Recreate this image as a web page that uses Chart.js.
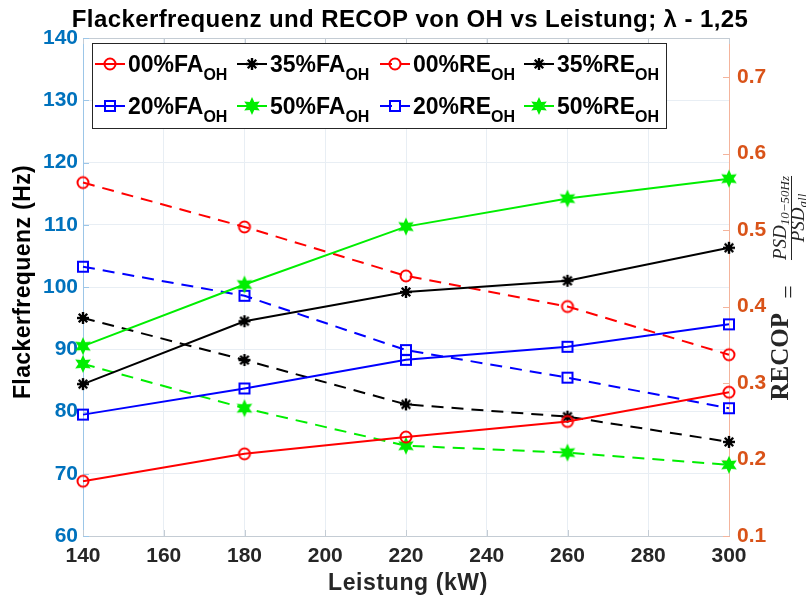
<!DOCTYPE html>
<html>
<head>
<meta charset="utf-8">
<script src="https://cdn.jsdelivr.net/npm/chart.js@4.4.0/dist/chart.umd.min.js"></script>
<style>
  html, body { margin: 0; padding: 0; background: #fff; }
  #wrap { width: 806px; height: 603px; }
</style>
</head>
<body>
<div id="wrap"><canvas id="c" width="806" height="603"></canvas></div>
<script>
// data
const leistung = [140, 180, 220, 260, 300];
// Flackerfrequenz (Hz), left axis
const fa00 = [68.8, 73.2, 75.9, 78.4, 83.1];
const fa20 = [79.5, 83.7, 88.3, 90.4, 94.0];
const fa35 = [84.4, 94.5, 99.2, 101.0, 106.3];
const fa50 = [90.5, 100.4, 109.7, 114.2, 117.4];
// RECOP, right axis
const re00 = [0.562, 0.504, 0.440, 0.400, 0.337];
const re20 = [0.452, 0.414, 0.343, 0.307, 0.267];
const re35 = [0.385, 0.330, 0.272, 0.256, 0.223];
const re50 = [0.325, 0.267, 0.218, 0.209, 0.193];

const seriesNames = ['00%FA', '20%FA', '35%FA', '50%FA', '00%RE', '20%RE', '35%RE', '50%RE'];
const seriesValues = [fa00, fa20, fa35, fa50, re00, re20, re35, re50];

const xTicks = [140, 160, 180, 200, 220, 240, 260, 280, 300];
const leftTicks = [60, 70, 80, 90, 100, 110, 120, 130, 140];
const rightTicks = [0.1, 0.2, 0.3, 0.4, 0.5, 0.6, 0.7];

const titleText = 'Flackerfrequenz und RECOP von OH vs Leistung; \u03bb - 1,25';
const xTitle = 'Leistung (kW)';
const yTitle = 'Flackerfrequenz (Hz)';

// styles per series (same order as seriesNames)
const colors = ['#ff0000', '#0000ff', '#000000', '#00ee00', '#ff0000', '#0000ff', '#000000', '#00ee00'];
const markers = ['circle', 'square', 'asterisk', 'hexagram', 'circle', 'square', 'asterisk', 'hexagram'];

const SANS = '"Liberation Sans", Arial, Helvetica, sans-serif';
const SERIF = '"Liberation Serif", "DejaVu Serif", serif';

function makeMarker(kind, color){
  const s = 22, c = s / 2;
  const cv = document.createElement('canvas');
  cv.width = s; cv.height = s;
  const g = cv.getContext('2d');
  g.strokeStyle = color; g.fillStyle = color; g.lineWidth = 2;
  if(kind === 'circle'){
    g.beginPath(); g.arc(c, c, 5.5, 0, Math.PI*2); g.stroke();
  } else if(kind === 'square'){
    g.strokeRect(c-5, c-5, 10, 10);
  } else if(kind === 'asterisk'){
    g.lineWidth = 2.4;
    for(let k=0;k<4;k++){
      const a = k*Math.PI/4;
      g.beginPath();
      g.moveTo(c-6*Math.cos(a), c-6*Math.sin(a));
      g.lineTo(c+6*Math.cos(a), c+6*Math.sin(a));
      g.stroke();
    }
    g.beginPath(); g.arc(c, c, 3.2, 0, Math.PI*2); g.fill();
  } else if(kind === 'hexagram'){
    g.beginPath();
    for(let k=0;k<12;k++){
      const r = k%2 ? 4.6 : 9;
      const a = -Math.PI/2 + k*Math.PI/6;
      const px = c + r*Math.cos(a), py = c + r*Math.sin(a);
      if(k===0) g.moveTo(px, py); else g.lineTo(px, py);
    }
    g.closePath(); g.fill();
  }
  return cv;
}

const markerImgs = seriesNames.map((_, i) => makeMarker(markers[i], colors[i]));

const datasets = seriesNames.map((name, i) => {
  const isRE = name.indexOf('RE') >= 0;
  return {
    label: name,
    data: leistung.map((x, j) => ({x, y: seriesValues[i][j]})),
    yAxisID: isRE ? 'yR' : 'yL',
    borderColor: colors[i],
    backgroundColor: colors[i],
    borderWidth: 2,
    borderDash: isRE ? [12, 8] : [],
    pointStyle: markerImgs[i],
    pointRadius: 6,
    pointHoverRadius: 6,
    tension: 0,
    clip: false
  };
});

// title and axis titles
const titles = {
  id: 'titles',
  afterDraw(chart){
    const ctx = chart.ctx;
    ctx.save();
    ctx.textBaseline = 'alphabetic';
    ctx.textAlign = 'center';
    ctx.fillStyle = '#000';
    ctx.letterSpacing = '0.4px';
    ctx.font = 'bold 24px ' + SANS;
    ctx.fillText(titleText, 410, 27);
    ctx.fillStyle = '#262626';
    ctx.font = 'bold 23px ' + SANS;
    ctx.letterSpacing = '0.6px';
    ctx.fillText(xTitle, 408, 590);
    ctx.save();
    ctx.translate(30, 282);
    ctx.rotate(-Math.PI/2);
    ctx.fillStyle = '#000';
    ctx.letterSpacing = '0.4px';
    ctx.fillText(yTitle, 0, 0);
    ctx.restore();
    ctx.restore();
  }
};

// legend with subscripts, drawn inside the axes like the original
const legendBox = {
  id: 'legendBox',
  afterDatasetsDraw(chart){
    const ctx = chart.ctx;
    const box = {l: 92, t: 43, r: 666, b: 128};
    const colX = [95, 237, 380, 524];
    const rowY = [64, 106];
    ctx.save();
    ctx.fillStyle = '#fff';
    ctx.fillRect(box.l, box.t, box.r-box.l, box.b-box.t);
    ctx.strokeStyle = '#262626'; ctx.lineWidth = 1;
    ctx.strokeRect(box.l+0.5, box.t+0.5, box.r-box.l, box.b-box.t);
    chart.data.datasets.forEach((ds, i) => {
      const x = colX[Math.floor(i/2)], y = rowY[i%2];
      ctx.strokeStyle = ds.borderColor; ctx.lineWidth = 2;
      ctx.setLineDash(ds.borderDash);
      ctx.beginPath(); ctx.moveTo(x, y); ctx.lineTo(x+30, y); ctx.stroke();
      ctx.setLineDash([]);
      const img = ds.pointStyle;
      ctx.drawImage(img, x+15-img.width/2, y-img.height/2);
      ctx.fillStyle = '#000';
      ctx.textBaseline = 'alphabetic';
      ctx.font = 'bold 23px ' + SANS;
      ctx.fillText(ds.label, x+33, y+8);
      const w = ctx.measureText(ds.label).width;
      ctx.font = 'bold 16px ' + SANS;
      ctx.fillText('OH', x+33+w, y+16);
    });
    ctx.restore();
  }
};

// RECOP = PSD_{10-50Hz} / PSD_{all}, rotated on the right side
const rightTitle = {
  id: 'rightTitle',
  afterDraw(chart){
    const ctx = chart.ctx;
    ctx.save();
    ctx.translate(790, 283);
    ctx.rotate(-Math.PI/2);
    ctx.fillStyle = '#262626';
    ctx.textBaseline = 'alphabetic';
    ctx.font = 'bold 25px ' + SERIF;
    ctx.textAlign = 'right';
    ctx.fillText('RECOP', -30, -2);
    ctx.textAlign = 'center';
    ctx.font = '24px ' + SERIF;
    ctx.fillText('=', -9, 6);
    // fraction
    const cx = 65;
    const mainFont = 'italic 19px ' + SERIF, subFont = 'italic 13px ' + SERIF;
    const part = (main, sub, base) => {
      ctx.font = mainFont;
      const w1 = ctx.measureText(main).width;
      ctx.font = subFont;
      const w2 = ctx.measureText(sub).width;
      const sx = cx - (w1 + w2)/2;
      ctx.textAlign = 'left';
      ctx.font = mainFont;
      ctx.fillText(main, sx, base);
      ctx.font = subFont;
      ctx.fillText(sub, sx + w1, base + 3);
      return w1 + w2;
    };
    const wn = part('PSD', '10\u221250Hz', -4);
    const wd = part('PSD', 'all', 14);
    ctx.strokeStyle = '#262626'; ctx.lineWidth = 1;
    const half = Math.max(wn, wd)/2;
    ctx.beginPath(); ctx.moveTo(cx-half, 1.5); ctx.lineTo(cx+half, 1.5); ctx.stroke();
    ctx.restore();
  }
};

// top box line and small inward tick marks
const frame = {
  id: 'frame',
  beforeDatasetsDraw(chart){
    const {ctx, chartArea: a, scales} = chart;
    ctx.save();
    ctx.lineWidth = 1;
    ctx.strokeStyle = '#c4ccd4';
    ctx.beginPath(); ctx.moveTo(a.left, a.top+0.5); ctx.lineTo(a.right, a.top+0.5); ctx.stroke();
    xTicks.forEach(v => {
      const x = Math.round(scales.x.getPixelForValue(v)) + 0.5;
      ctx.beginPath(); ctx.moveTo(x, a.bottom); ctx.lineTo(x, a.bottom-6); ctx.stroke();
      ctx.beginPath(); ctx.moveTo(x, a.top); ctx.lineTo(x, a.top+6); ctx.stroke();
    });
    ctx.strokeStyle = '#9cc6e8';
    leftTicks.forEach(v => {
      const y = Math.round(scales.yL.getPixelForValue(v)) + 0.5;
      ctx.beginPath(); ctx.moveTo(a.left, y); ctx.lineTo(a.left+6, y); ctx.stroke();
    });
    ctx.strokeStyle = '#f4b49c';
    rightTicks.forEach(v => {
      const y = Math.round(scales.yR.getPixelForValue(v)) + 0.5;
      ctx.beginPath(); ctx.moveTo(a.right, y); ctx.lineTo(a.right-6, y); ctx.stroke();
    });
    ctx.restore();
  }
};

Chart.defaults.font.family = SANS;

new Chart(document.getElementById('c'), {
  type: 'line',
  data: { datasets },
  options: {
    responsive: false,
    devicePixelRatio: 1,
    animation: false,
    events: [],
    layout: { padding: { top: 38 } },
    plugins: {
      legend: { display: false },
      tooltip: { enabled: false },
      title: { display: false }
    },
    scales: {
      x: {
        type: 'linear',
        min: 140, max: 300,
        afterBuildTicks: s => { s.ticks = xTicks.map(v => ({value: v})); },
        afterFit: s => { s.height = 67; },
        grid: { color: '#e8eef4', drawTicks: false },
        border: { color: '#c4ccd4' },
        ticks: { color: '#262626', padding: 8, font: { size: 21, weight: 'bold' } }
      },
      yL: {
        type: 'linear', position: 'left',
        min: 60, max: 140,
        afterBuildTicks: s => { s.ticks = leftTicks.map(v => ({value: v})); },
        afterFit: s => { s.width = 83; },
        grid: { color: '#e8eef4', drawTicks: false },
        border: { color: '#9cc6e8' },
        ticks: { color: '#0072BD', padding: 5, font: { size: 21, weight: 'bold' } }
      },
      yR: {
        type: 'linear', position: 'right',
        min: 0.1, max: 0.751,
        afterBuildTicks: s => { s.ticks = rightTicks.map(v => ({value: v})); },
        afterFit: s => { s.width = 77; },
        grid: { display: false, drawTicks: false },
        border: { color: '#f4b49c' },
        ticks: {
          color: '#D95319', padding: 8, font: { size: 21, weight: 'bold' },
          callback: v => v.toFixed(1)
        }
      }
    }
  },
  plugins: [frame, legendBox, rightTitle, titles]
});
</script>
</body>
</html>
